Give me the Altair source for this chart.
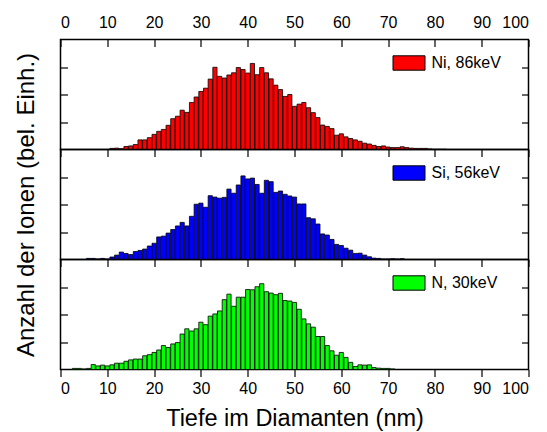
import altair as alt
import pandas as pd

FONT = "Liberation Sans"

# Ion species, bar fill colours and implantation depth histograms (1 nm bins)
ions = ["Ni, 86keV", "Si, 56keV", "N, 30keV"]
colors = ["#ff0000", "#0000ff", "#00ff00"]

ni_depth = list(range(11, 83))
ni_counts = [0.04, 0.05, 0.03, 0.11, 0.13, 0.18, 0.35, 0.35, 0.43, 0.55,
             0.66, 0.73, 0.88, 1.12, 1.21, 1.43, 1.35, 1.71, 1.91, 2.11,
             2.23, 2.56, 2.99, 2.66, 2.60, 2.71, 2.79, 2.98, 2.91, 2.78,
             3.13, 2.72, 2.98, 2.79, 2.57, 2.34, 2.18, 1.93, 2.00, 1.57,
             1.65, 1.71, 1.52, 1.34, 1.16, 0.89, 0.84, 0.76, 0.52, 0.57,
             0.46, 0.40, 0.35, 0.30, 0.23, 0.20, 0.15, 0.11, 0.13, 0.09,
             0.07, 0.07, 0.10, 0.07, 0.05, 0.04, 0.04, 0.04, 0.02, 0.01,
             0.01, 0.01]

si_depth = list(range(6, 74))
si_counts = [0.04, 0.04, 0.02, 0.04, 0.02, 0.09, 0.16, 0.27, 0.22, 0.18,
             0.29, 0.33, 0.38, 0.49, 0.59, 0.82, 0.85, 0.96, 1.09, 1.22,
             1.35, 1.22, 1.57, 2.01, 2.05, 1.90, 2.32, 2.27, 2.23, 2.26,
             2.56, 2.41, 2.71, 3.04, 2.93, 2.96, 2.73, 2.41, 2.88, 2.83,
             2.44, 2.49, 2.37, 2.31, 2.27, 2.02, 2.02, 1.52, 1.48, 1.29,
             0.93, 0.89, 0.73, 0.55, 0.51, 0.41, 0.34, 0.22, 0.23, 0.16,
             0.10, 0.05, 0.04, 0.02, 0.02, 0.03, 0.02, 0.03]

n_depth = list(range(3, 72))
n_counts = [0.04, 0.04, 0.02, 0.04, 0.18, 0.13, 0.16, 0.13, 0.17, 0.23,
            0.23, 0.30, 0.35, 0.38, 0.38, 0.50, 0.54, 0.62, 0.71, 0.87,
            0.80, 0.93, 0.98, 1.29, 1.48, 1.40, 1.48, 1.72, 1.63, 1.94,
            2.02, 2.13, 2.54, 2.74, 2.30, 2.63, 2.63, 2.91, 2.90, 3.01,
            3.12, 2.83, 2.78, 2.72, 2.77, 2.51, 2.49, 2.44, 2.19, 1.84,
            1.66, 1.54, 1.20, 1.20, 0.87, 0.68, 0.52, 0.62, 0.44, 0.26,
            0.11, 0.17, 0.16, 0.17, 0.07, 0.05, 0.04, 0.04, 0.02]

x_ticks = [0, 10, 20, 30, 40, 50, 60, 70, 80, 90, 100]
y_ticks = [1, 2, 3]

PANEL_W = 468
PANEL_H = 110


def panel(ion, color, depth, counts, top_labels, y_title, bottom_axis):
    df = pd.DataFrame({"depth": depth, "count": counts, "ion": ion})
    base = alt.Chart(df).transform_calculate(
        lo="datum.depth - 0.45", hi="datum.depth + 0.45", zero="0"
    )
    x_scale = alt.Scale(domain=[0, 100], nice=False, zero=False)
    y_scale = alt.Scale(domain=[0, 4], nice=False)

    # inward ticks along the top edge; labels only on the uppermost panel
    top_axis = alt.Axis(
        orient="top", values=x_ticks, tickSize=7, offset=-7, domain=False,
        grid=False, labels=top_labels, labelPadding=9, title=None,
    )
    left_kwargs = dict(
        orient="left", values=y_ticks, tickSize=7, offset=-7, domain=False,
        grid=False, labels=False,
    )
    if y_title:
        left_axis = alt.Axis(title=y_title, titlePadding=21, **left_kwargs)
    else:
        left_axis = alt.Axis(title=None, **left_kwargs)

    bars = base.mark_bar(stroke="black", strokeWidth=0.8).encode(
        x=alt.X("lo:Q", scale=x_scale, axis=top_axis),
        x2="hi:Q",
        y=alt.Y("count:Q", scale=y_scale, axis=left_axis),
        y2="zero:Q",
        color=alt.Color(
            "ion:N",
            scale=alt.Scale(domain=[ion], range=[color]),
            legend=alt.Legend(
                title=None, orient="none", legendX=332, legendY=7,
                symbolType="M-1,-0.45H1V0.45H-1Z", symbolSize=1024,
                symbolStrokeColor="black", symbolStrokeWidth=1,
                symbolFillColor=color, labelFontSize=16, labelFont=FONT,
                labelColor="black", labelOffset=6, padding=0,
            ),
        ),
    )

    if bottom_axis:
        x_axis2 = alt.Axis(
            orient="bottom", values=x_ticks, tickSize=7, domain=False,
            grid=False, labelPadding=4, title="Tiefe im Diamanten (nm)",
            titlePadding=10, titleFontSize=23.5,
        )
    else:
        x_axis2 = None

    # inward ticks on the right edge
    right_axis = alt.Axis(
        orient="right", values=y_ticks, tickSize=7, offset=-7, domain=False,
        grid=False, labels=False, title=None,
    )
    ghost = base.mark_point(opacity=0).encode(
        x=alt.X("depth:Q", scale=x_scale, axis=x_axis2),
        y=alt.Y("count:Q", scale=y_scale, axis=right_axis),
    )

    return (
        alt.layer(bars, ghost)
        .resolve_axis(x="independent", y="independent")
        .properties(width=PANEL_W, height=PANEL_H)
    )


p_ni = panel(ions[0], colors[0], ni_depth, ni_counts, True, None, False)
p_si = panel(ions[1], colors[1], si_depth, si_counts, False,
             "Anzahl der Ionen (bel. Einh.)", False)
p_n = panel(ions[2], colors[2], n_depth, n_counts, False, None, True)

chart = (
    alt.vconcat(p_ni, p_si, p_n, spacing=0, bounds="flush")
    .resolve_scale(color="independent")
    .properties(padding={"left": 13.5, "top": 13.5, "right": 5, "bottom": 5},
                background="white")
    .configure_view(stroke="black", strokeWidth=1.5)
    .configure_axis(
        labelFont=FONT, titleFont=FONT, labelFontSize=16, titleFontSize=24,
        titleFontWeight="normal", labelColor="black", titleColor="black",
        tickColor="black", tickWidth=1.2,
    )
)

chart.save("out.html", embed_options={"renderer": "svg", "actions": False})
